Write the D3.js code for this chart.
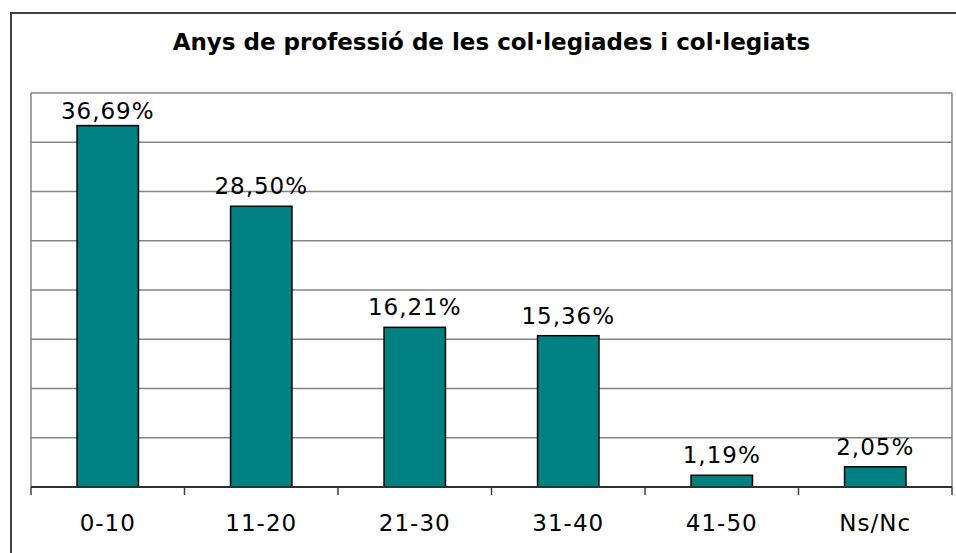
<!DOCTYPE html>
<html>
<head>
<meta charset="utf-8">
<script src="https://cdn.jsdelivr.net/npm/d3@7"></script>
<style>
  body { margin: 0; background: #fff; }
  text { font-family: "DejaVu Sans", Verdana, sans-serif; fill: #000; }
</style>
</head>
<body>
<div id="chart"></div>
<script>
// Width and height
var chart_width  = 956;
var chart_height = 553;

// data
var title      = "Anys de professió de les col·legiades i col·legiats";
var categories = ["0-10", "11-20", "21-30", "31-40", "41-50", "Ns/Nc"];
var values     = [36.69, 28.50, 16.21, 15.36, 1.19, 2.05];
var grid_ticks = [0, 5, 10, 15, 20, 25, 30, 35, 40];

var plot = {left: 31, right: 952, top: 93, bottom: 487};

var svg = d3.select("#chart")
    .append("svg")
    .attr("width", chart_width)
    .attr("height", chart_height);

// outer frame (cut by the window on right and bottom)
svg.append("rect")
    .attr("x", 11).attr("y", 13)
    .attr("width", 980).attr("height", 580)
    .attr("fill", "#fff")
    .attr("stroke", "#404040")
    .attr("stroke-width", 2);

// title
svg.append("text")
    .attr("x", (plot.left + plot.right) / 2)
    .attr("y", 50)
    .attr("text-anchor", "middle")
    .style("font-size", "23px")
    .style("font-weight", "bold")
    .text(title);

var x = d3.scaleBand()
    .domain(categories)
    .range([plot.left, plot.right])
    .padding(0);

var y = d3.scaleLinear()
    .domain([0, 40])
    .range([plot.bottom, plot.top]);

// gridlines
svg.selectAll("line.grid")
    .data(grid_ticks.slice(1))
    .enter()
    .append("line")
    .attr("class", "grid")
    .attr("x1", plot.left).attr("x2", plot.right)
    .attr("y1", function(d){ return y(d); })
    .attr("y2", function(d){ return y(d); })
    .attr("stroke", "#858585")
    .attr("stroke-width", 1.5);

// plot side edges
svg.selectAll("line.edge")
    .data([plot.left, plot.right])
    .enter()
    .append("line")
    .attr("class", "edge")
    .attr("x1", function(d){ return d; }).attr("x2", function(d){ return d; })
    .attr("y1", plot.top).attr("y2", plot.bottom)
    .attr("stroke", "#858585")
    .attr("stroke-width", 1.5);

// bars
var bar_w = x.bandwidth() * 0.4;
svg.selectAll("rect.bar")
    .data(values)
    .enter()
    .append("rect")
    .attr("class", "bar")
    .attr("x", function(d, i){ return x(categories[i]) + (x.bandwidth() - bar_w) / 2; })
    .attr("y", function(d){ return y(d); })
    .attr("width", bar_w)
    .attr("height", function(d){ return y(0) - y(d); })
    .attr("fill", "#008080")
    .attr("stroke", "#000")
    .attr("stroke-width", 1.5);

// value labels
svg.selectAll("text.val")
    .data(values)
    .enter()
    .append("text")
    .attr("class", "val")
    .attr("x", function(d, i){ return x(categories[i]) + x.bandwidth() / 2; })
    .attr("y", function(d){ return Math.max(y(d) - 12, plot.top + 26); })
    .attr("text-anchor", "middle")
    .style("font-size", "23px")
    .style("letter-spacing", "1px")
    .text(function(d){ return d.toFixed(2).replace(".", ",") + "%"; });

// x axis
var xAxis = d3.axisBottom(x).tickSize(0).tickPadding(0);
var gx = svg.append("g")
    .attr("transform", "translate(0," + plot.bottom + ")")
    .call(xAxis);
gx.select(".domain").remove();
gx.selectAll("text")
    .attr("y", 44)
    .attr("dy", 0)
    .style("font-size", "23px")
    .style("letter-spacing", "1px")
    .style("font-family", '"DejaVu Sans", Verdana, sans-serif');

// tick marks at the band edges
var edges = categories.map(function(c){ return x(c); }).concat([plot.right]);
svg.selectAll("line.tick")
    .data(edges)
    .enter()
    .append("line")
    .attr("x1", function(d){ return d; }).attr("x2", function(d){ return d; })
    .attr("y1", plot.bottom).attr("y2", plot.bottom + 8)
    .attr("stroke", "#404040")
    .attr("stroke-width", 1.5);

svg.append("line")
    .attr("x1", plot.left).attr("x2", plot.right)
    .attr("y1", plot.bottom).attr("y2", plot.bottom)
    .attr("stroke", "#303030")
    .attr("stroke-width", 2);
</script>
</body>
</html>
